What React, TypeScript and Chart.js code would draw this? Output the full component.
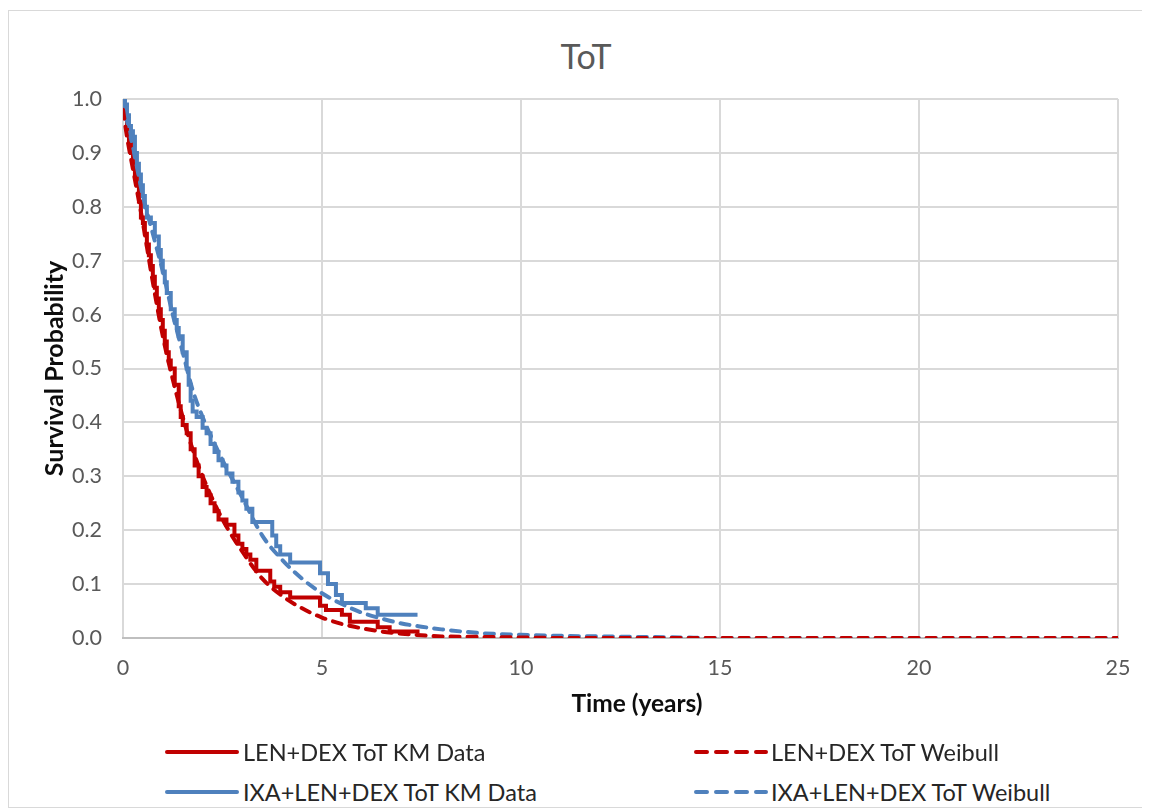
import React, { useEffect, useRef } from "react";
import { Chart, registerables } from "chart.js";

Chart.register(...registerables);

// ---- data ----
const lenKmTime = [0, 0.05, 0.1, 0.15, 0.2, 0.25, 0.3, 0.35, 0.4, 0.45, 0.5, 0.55, 0.6, 0.65, 0.7, 0.75, 0.8, 0.85, 0.9, 0.95, 1.0, 1.05, 1.1, 1.15, 1.2, 1.3, 1.4, 1.45, 1.5, 1.6, 1.7, 1.8, 1.9, 2.0, 2.1, 2.2, 2.3, 2.4, 2.6, 2.8, 2.9, 3.0, 3.1, 3.2, 3.35, 3.7, 3.8, 3.95, 4.2, 4.95, 5.1, 5.5, 5.7, 6.4, 6.7, 7.45];
const lenKmSurv = [1.0, 0.97, 0.95, 0.92, 0.9, 0.88, 0.86, 0.84, 0.81, 0.78, 0.77, 0.75, 0.73, 0.71, 0.69, 0.67, 0.65, 0.63, 0.61, 0.59, 0.57, 0.55, 0.53, 0.515, 0.5, 0.47, 0.43, 0.41, 0.395, 0.38, 0.35, 0.32, 0.3, 0.28, 0.265, 0.25, 0.235, 0.22, 0.21, 0.19, 0.175, 0.165, 0.155, 0.145, 0.125, 0.105, 0.095, 0.085, 0.075, 0.06, 0.052, 0.043, 0.03, 0.02, 0.012, 0.012];

const lenWbTime = [0, 0.1, 0.25, 0.5, 0.75, 1.0, 1.25, 1.5, 1.75, 2.0, 2.5, 3.0, 3.5, 4.0, 4.5, 5.0, 5.5, 6.0, 6.5, 7.0, 7.5, 8.0, 9.0, 10.0, 11.0, 25];
const lenWbSurv = [0.98, 0.93, 0.87, 0.77, 0.66, 0.56, 0.48, 0.41, 0.35, 0.3, 0.22, 0.16, 0.11, 0.078, 0.055, 0.038, 0.026, 0.018, 0.012, 0.008, 0.005, 0.003, 0.002, 0.001, 0, 0];

const ixaKmTime = [0, 0.05, 0.1, 0.15, 0.2, 0.25, 0.3, 0.35, 0.4, 0.45, 0.5, 0.55, 0.6, 0.7, 0.8, 0.9, 0.95, 1.0, 1.05, 1.1, 1.2, 1.3, 1.35, 1.4, 1.5, 1.6, 1.65, 1.7, 1.75, 1.85, 2.0, 2.1, 2.2, 2.3, 2.4, 2.5, 2.6, 2.75, 2.9, 3.0, 3.1, 3.25, 3.75, 3.85, 3.95, 4.2, 4.95, 5.15, 5.35, 5.5, 6.1, 6.4, 7.4];
const ixaKmSurv = [1.0, 0.99, 0.97, 0.95, 0.94, 0.93, 0.9, 0.88, 0.86, 0.84, 0.82, 0.8, 0.78, 0.77, 0.745, 0.72, 0.7, 0.68, 0.66, 0.64, 0.61, 0.59, 0.575, 0.56, 0.53, 0.5, 0.47, 0.44, 0.42, 0.41, 0.39, 0.38, 0.36, 0.345, 0.33, 0.32, 0.305, 0.29, 0.27, 0.255, 0.24, 0.215, 0.19, 0.17, 0.155, 0.14, 0.12, 0.1, 0.08, 0.065, 0.055, 0.043, 0.043];

const ixaWbTime = [0, 0.1, 0.25, 0.5, 0.75, 1.0, 1.25, 1.5, 1.75, 2.0, 2.5, 3.0, 3.5, 4.0, 4.5, 5.0, 5.5, 6.0, 6.5, 7.0, 7.5, 8.0, 9.0, 10.0, 11.0, 12.0, 13.0, 14.0, 15.0, 25];
const ixaWbSurv = [1.0, 0.96, 0.91, 0.82, 0.75, 0.68, 0.6, 0.53, 0.46, 0.41, 0.33, 0.26, 0.19, 0.145, 0.11, 0.083, 0.063, 0.047, 0.036, 0.027, 0.021, 0.016, 0.009, 0.006, 0.004, 0.003, 0.002, 0.001, 0, 0];

const seriesNames = [
  "LEN+DEX ToT KM Data",
  "LEN+DEX ToT Weibull",
  "IXA+LEN+DEX ToT KM Data",
  "IXA+LEN+DEX ToT Weibull",
];
const chartTitle = "ToT";
const xTitle = "Time (years)";
const yTitle = "Survival Probability";

const RED = "#C00000";
const BLUE = "#4F81BD";
const FONT = "Lato, 'Open Sans', sans-serif";

const toPoints = (xs: number[], ys: number[]) => xs.map((x, i) => ({ x, y: ys[i] }));

function LegendItem({ color, dashed, label, left, top }: { color: string; dashed: boolean; label: string; left: number; top: number }) {
  return (
    <div style={{ position: "absolute", left, top: top - 15, height: 30, display: "flex", alignItems: "center", whiteSpace: "nowrap" }}>
      <svg width={76} height={10} style={{ display: "block" }}>
        <line x1={dashed ? 3 : 2} y1={5} x2={dashed ? 73 : 72} y2={5} stroke={color} strokeWidth={4} strokeLinecap="round" strokeDasharray={dashed ? "11 9" : undefined} />
      </svg>
      <span style={{ fontFamily: FONT, fontSize: 23.5, color: "#262626", marginLeft: 2 }}>{label}</span>
    </div>
  );
}

export default function App() {
  const ref = useRef<HTMLCanvasElement | null>(null);

  useEffect(() => {
    if (!ref.current) return;
    const chart = new Chart(ref.current, {
      type: "line",
      data: {
        datasets: [
          {
            label: seriesNames[0],
            data: toPoints(lenKmTime, lenKmSurv),
            borderColor: RED,
            backgroundColor: RED,
            borderWidth: 4,
            stepped: "before",
            pointRadius: 0,
            order: 3,
          },
          {
            label: seriesNames[1],
            data: toPoints(lenWbTime, lenWbSurv),
            borderColor: RED,
            backgroundColor: RED,
            borderWidth: 4,
            borderDash: [9, 8],
            borderCapStyle: "round",
            cubicInterpolationMode: "monotone",
            pointRadius: 0,
            order: 0,
          },
          {
            label: seriesNames[2],
            data: toPoints(ixaKmTime, ixaKmSurv),
            borderColor: BLUE,
            backgroundColor: BLUE,
            borderWidth: 4,
            stepped: "before",
            pointRadius: 0,
            order: 2,
          },
          {
            label: seriesNames[3],
            data: toPoints(ixaWbTime, ixaWbSurv),
            borderColor: BLUE,
            backgroundColor: BLUE,
            borderWidth: 4,
            borderDash: [9, 8],
            borderCapStyle: "round",
            cubicInterpolationMode: "monotone",
            pointRadius: 0,
            order: 1,
          },
        ],
      },
      options: {
        animation: false,
        responsive: false,
        devicePixelRatio: 1,
        parsing: false as any,
        layout: { padding: { left: 0, right: 32, top: 88, bottom: 0 } },
        plugins: {
          legend: { display: false },
          title: { display: false },
          tooltip: { enabled: false },
        },
        scales: {
          x: {
            type: "linear",
            min: 0,
            max: 25,
            ticks: {
              stepSize: 5,
              padding: 17,
              color: "#595959",
              font: { family: FONT, size: 21.5 },
            },
            grid: { color: "#d9d9d9", lineWidth: 2, drawTicks: false },
            border: { color: "#bfbfbf", width: 2 },
            title: { display: false },
            afterFit: (s: any) => {
              s.height = 103;
            },
          },
          y: {
            type: "linear",
            min: 0,
            max: 1,
            ticks: {
              stepSize: 0.1,
              padding: 21,
              color: "#595959",
              font: { family: FONT, size: 21.5 },
              callback: (v: any) => Number(v).toFixed(1),
            },
            grid: { color: "#d9d9d9", lineWidth: 2, drawTicks: false },
            border: { display: false },
            title: {
              display: true,
              text: yTitle,
              color: "#0d0d0d",
              font: { family: FONT, size: 25, weight: "bold" },
              padding: { top: 31, bottom: 0 },
            },
            afterFit: (s: any) => {
              s.width = 114;
            },
          },
        },
      },
    });
    return () => chart.destroy();
  }, []);

  return (
    <div
      style={{
        position: "relative",
        width: 1142,
        height: 798,
        marginTop: 2,
        border: "1px solid #d9d9d9",
        boxSizing: "border-box",
        background: "#fff",
        overflow: "hidden",
      }}
    >
      <div
        style={{
          position: "absolute",
          left: 0,
          width: 1154,
          top: 25,
          textAlign: "center",
          fontFamily: FONT,
          fontSize: 34,
          color: "#595959",
          lineHeight: "40px",
        }}
      >
        {chartTitle}
      </div>
      <canvas ref={ref} width={1141} height={730} style={{ position: "absolute", left: 0, top: 0 }} />
      <div
        style={{
          position: "absolute",
          left: 428,
          width: 400,
          top: 677,
          textAlign: "center",
          fontFamily: FONT,
          fontSize: 24.5,
          fontWeight: "bold",
          color: "#0d0d0d",
          lineHeight: "30px",
        }}
      >
        {xTitle}
      </div>
      <LegendItem color={RED} dashed={false} label={seriesNames[0]} left={156} top={741} />
      <LegendItem color={RED} dashed={true} label={seriesNames[1]} left={684} top={741} />
      <LegendItem color={BLUE} dashed={false} label={seriesNames[2]} left={156} top={781} />
      <LegendItem color={BLUE} dashed={true} label={seriesNames[3]} left={684} top={781} />
    </div>
  );
}
